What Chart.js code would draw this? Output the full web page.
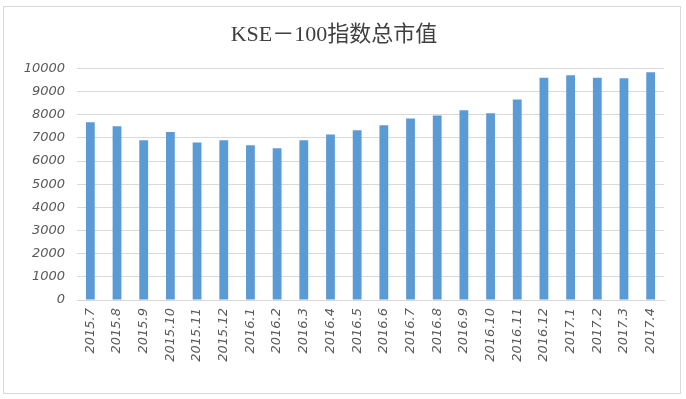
<!DOCTYPE html>
<html>
<head>
<meta charset="utf-8">
<script src="https://cdn.jsdelivr.net/npm/chart.js@4"></script>
<style>
  html, body { margin: 0; padding: 0; background: #fff; }
  #wrap { position: relative; width: 686px; height: 399px; }
  #frame { position: absolute; left: 3px; top: 6px; width: 676px; height: 386px;
           border: 1px solid #d9d9d9; pointer-events: none; }
</style>
</head>
<body>
<div id="wrap">
  <canvas id="kseChart" width="686" height="399"></canvas>
  <div id="frame"></div>
</div>
<script>
let months = ["2015.7", "2015.8", "2015.9", "2015.10", "2015.11", "2015.12",
              "2016.1", "2016.2", "2016.3", "2016.4", "2016.5", "2016.6",
              "2016.7", "2016.8", "2016.9", "2016.10", "2016.11", "2016.12",
              "2017.1", "2017.2", "2017.3", "2017.4"];
let marketCap = [7680, 7500, 6900, 7250, 6800, 6900,
                 6680, 6550, 6900, 7150, 7330, 7550,
                 7840, 7970, 8190, 8060, 8660, 9600,
                 9700, 9600, 9570, 9830];
let yMin = 0;
let yMax = 10000;
let yStep = 1000;

let tickFont = { family: "'DejaVu Sans', sans-serif", size: 13, style: "italic" };

let createChart = function() {
    const ctx = document.getElementById('kseChart');
    return new Chart(ctx, {
        type: 'bar',
        data: {
            labels: months,
            datasets: [{
                label: "KSE－100指数总市值",
                data: marketCap,
                backgroundColor: '#5b9bd5',
                borderWidth: 0,
                barPercentage: 0.33,
                categoryPercentage: 1.0
            }]
        },
        options: {
            responsive: false,
            animation: false,
            layout: { padding: { top: 10, left: 4, right: 22, bottom: 22 } },
            plugins: {
                legend: { display: false },
                tooltip: { enabled: false },
                title: {
                    display: true,
                    text: "KSE－100指数总市值",
                    color: '#404040',
                    font: { family: "'Liberation Serif', 'Noto Sans CJK SC', serif", size: 22, weight: 'normal', lineHeight: 1.2 },
                    padding: { top: 12, bottom: 20 }
                }
            },
            scales: {
                x: {
                    grid: { display: false, drawTicks: false },
                    border: { display: true, color: '#d9d9d9' },
                    ticks: {
                        color: '#595959',
                        font: tickFont,
                        minRotation: 90,
                        maxRotation: 90,
                        autoSkip: false,
                        padding: 8
                    },
                    afterFit: function(scale) { scale.height = 77; }
                },
                y: {
                    min: yMin,
                    max: yMax,
                    grid: { color: '#d9d9d9', drawTicks: false },
                    border: { display: false },
                    ticks: {
                        stepSize: yStep,
                        color: '#595959',
                        font: tickFont,
                        padding: 12,
                        callback: function(value) { return String(value); }
                    },
                    afterFit: function(scale) { scale.width = 73; }
                }
            }
        }
    });
}

window.onload = function() {
    createChart();
}
</script>
</body>
</html>
